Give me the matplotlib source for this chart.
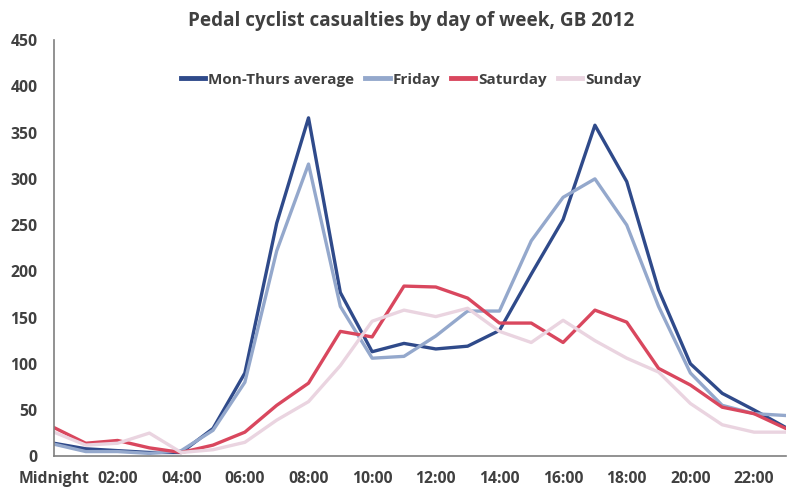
import matplotlib
matplotlib.use('Agg')
from matplotlib import pyplot as plt

plt.rcParams['font.family'] = ['Open Sans', 'DejaVu Sans']

hours = list(range(24))
tick_pos = [0, 2, 4, 6, 8, 10, 12, 14, 16, 18, 20, 22]
tick_labels = ['Midnight', '02:00', '04:00', '06:00', '08:00', '10:00',
               '12:00', '14:00', '16:00', '18:00', '20:00', '22:00']

mon_thu = [14, 8, 6, 4, 4, 30, 90, 252, 366, 177, 113, 122,
           116, 119, 136, 197, 256, 358, 297, 180, 100, 68, 50, 31]
friday = [13, 5, 5, 3, 6, 28, 80, 222, 316, 162, 106, 108,
          130, 157, 157, 233, 280, 300, 250, 162, 90, 55, 46, 44]
saturday = [31, 14, 17, 9, 4, 12, 26, 55, 79, 135, 129, 184,
            183, 171, 144, 144, 123, 158, 145, 95, 77, 53, 46, 30]
sunday = [26, 12, 14, 25, 4, 7, 15, 39, 59, 98, 146, 158,
          151, 160, 135, 123, 147, 125, 106, 91, 57, 34, 26, 26]

series = [('Mon-Thurs average', mon_thu, '#2f4a8a'),
          ('Friday', friday, '#94a8cc'),
          ('Saturday', saturday, '#d9475e'),
          ('Sunday', sunday, '#ead4e0')]

fig = plt.figure(figsize=(7.93, 4.90), dpi=100)
ax = fig.add_axes([0.068, 0.069, 0.923, 0.849])

for name, vals, col in series:
    ax.plot(hours, vals, color=col, lw=2.4, label=name)

ax.set_xlim(0, 23)
ax.set_ylim(0, 450)
ax.set_yticks(range(0, 451, 50))
ax.set_xticks(tick_pos)
ax.set_xticklabels(tick_labels)

grey = '#404040'
for lab in ax.get_xticklabels() + ax.get_yticklabels():
    lab.set_fontweight('bold')
    lab.set_color(grey)
    lab.set_fontsize(11.3)
ax.tick_params(axis='both', length=0)
ax.tick_params(axis='x', pad=11)
ax.tick_params(axis='y', pad=12)

for side in ['top', 'right']:
    ax.spines[side].set_visible(False)
for side in ['left', 'bottom']:
    ax.spines[side].set_color('#7f7f7f')
    ax.spines[side].set_linewidth(1.2)

fig.text(0.519, 0.957, 'Pedal cyclist casualties by day of week, GB 2012',
         ha='center', va='center', fontsize=13.6, fontweight='bold', color=grey)

leg = ax.legend(loc='center', bbox_to_anchor=(0.488, 0.905), ncol=4, frameon=False,
                handlelength=1.6, handletextpad=0.2, columnspacing=0.7,
                prop={'weight': 'bold', 'size': 11})
for t in leg.get_texts():
    t.set_color(grey)
for h in leg.get_lines():
    h.set_linewidth(3.5)

fig.savefig('out.png', dpi=100)
